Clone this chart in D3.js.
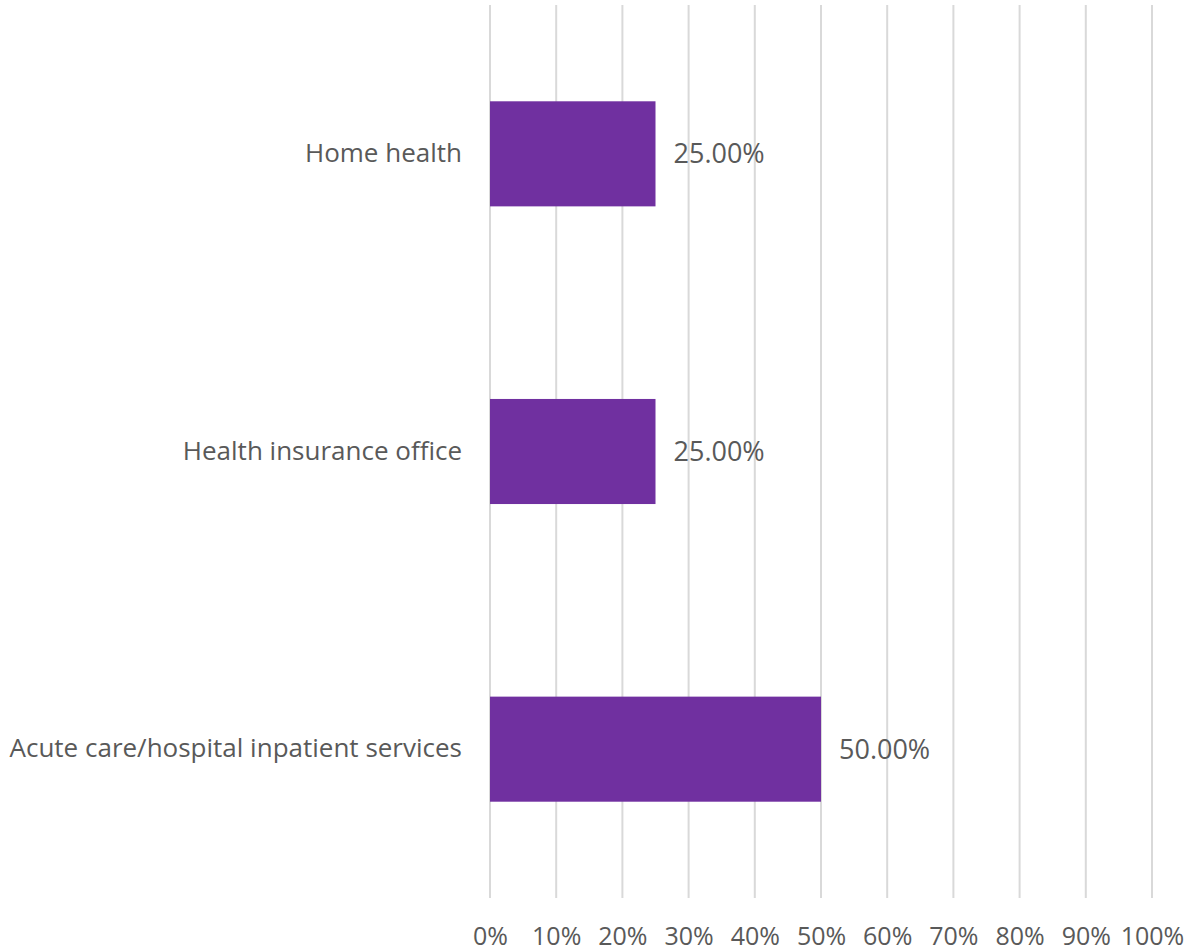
<!DOCTYPE html>
<html>
<head>
<meta charset="utf-8">
<script src="https://cdn.jsdelivr.net/npm/d3@7"></script>
<style>
body { margin: 0; background: #fff; }
text { font-family: "Open Sans", sans-serif; fill: #595959; }
</style>
</head>
<body>
<script>
var categories = ["Home health", "Health insurance office", "Acute care/hospital inpatient services"];
var values = [0.25, 0.25, 0.5];
var valueLabels = ["25.00%", "25.00%", "50.00%"];
var tickValues = [0, 0.1, 0.2, 0.3, 0.4, 0.5, 0.6, 0.7, 0.8, 0.9, 1.0];

var width = 1187, height = 952;
var margin = {top: 5, right: 35, bottom: 54, left: 490};

var svg = d3.select("body").append("svg")
    .attr("width", width)
    .attr("height", height);

var x = d3.scaleLinear().domain([0, 1]).range([margin.left, width - margin.right]);
var y = d3.scaleBand().domain(categories)
    .range([margin.top, height - margin.bottom])
    .paddingInner(0.647).paddingOuter(0.3235);

// gridlines
svg.append("g").selectAll("line")
    .data(tickValues)
    .enter().append("line")
    .attr("x1", function(d) { return x(d); })
    .attr("x2", function(d) { return x(d); })
    .attr("y1", margin.top)
    .attr("y2", height - margin.bottom)
    .attr("stroke", "#d9d9d9")
    .attr("stroke-width", 2);

// bars
svg.selectAll(".bar")
    .data(values)
    .enter().append("rect")
    .attr("class", "bar")
    .attr("x", x(0))
    .attr("y", function(d, i) { return y(categories[i]); })
    .attr("width", function(d) { return x(d) - x(0); })
    .attr("height", y.bandwidth())
    .attr("fill", "#7030a0");

// value labels
svg.selectAll(".val")
    .data(values)
    .enter().append("text")
    .attr("class", "val")
    .attr("x", function(d) { return x(d) + 18; })
    .attr("y", function(d, i) { return y(categories[i]) + y.bandwidth() / 2; })
    .attr("dy", "0.35em")
    .style("font-size", "27px")
    .text(function(d, i) { return valueLabels[i]; });

// category axis
var yAxis = svg.append("g")
    .attr("transform", "translate(" + (margin.left - 28) + ",0)")
    .call(d3.axisLeft(y).tickSize(0).tickPadding(0));
yAxis.select(".domain").remove();
yAxis.selectAll("text").style("font-size", "26px").style("fill", "#595959");

// value axis
var xAxis = svg.append("g")
    .attr("transform", "translate(0," + (height - margin.bottom) + ")")
    .call(d3.axisBottom(x).tickValues(tickValues).tickFormat(d3.format(".0%")).tickSize(0).tickPadding(29));
xAxis.select(".domain").remove();
xAxis.selectAll("text").style("font-size", "25px").style("fill", "#595959").attr("font-family", null);
</script>
</body>
</html>
